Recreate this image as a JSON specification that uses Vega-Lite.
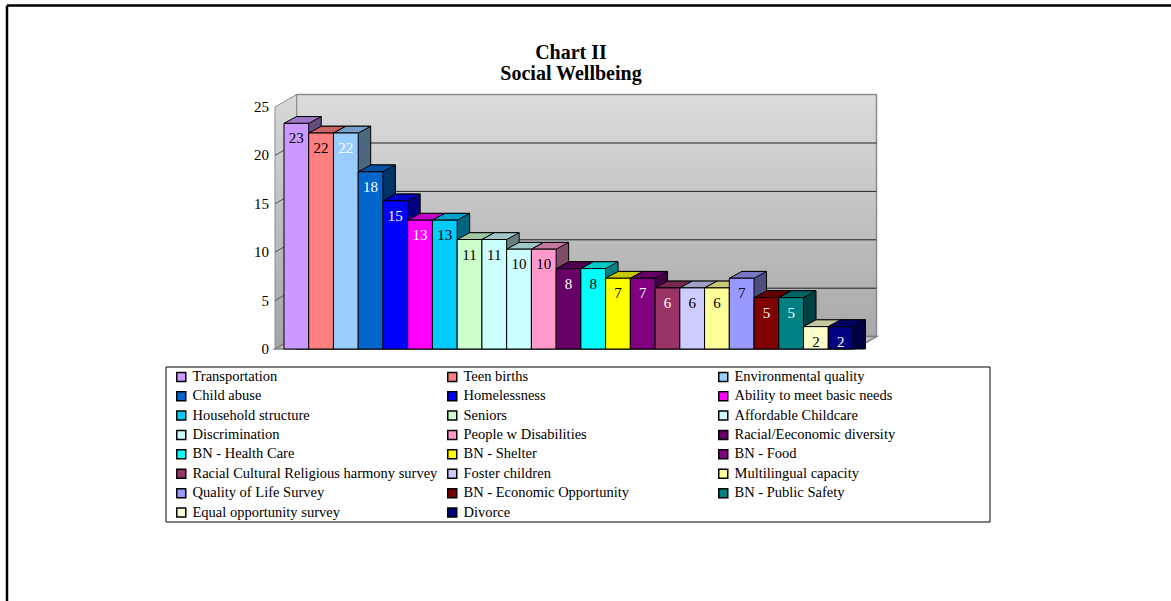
{
  "$schema": "https://vega.github.io/schema/vega-lite/v6.json",
  "width": 580,
  "height": 242,
  "autosize": {"type": "none"},
  "padding": {"left": 275, "top": 107, "right": 316, "bottom": 252},
  "background": "white",
  "title": {
    "text": ["Chart II", "Social Wellbeing"],
    "anchor": "middle",
    "frame": "group",
    "font": "Liberation Serif",
    "fontSize": 20,
    "fontWeight": "bold",
    "color": "#000000",
    "lineHeight": 21,
    "dx": 6,
    "dy": 80,
    "offset": 0
  },
  "config": {
    "view": {"stroke": null}
  },
  "datasets": {
    "wellbeing": [
      {"item": "Transportation", "value": 23},
      {"item": "Teen births", "value": 22},
      {"item": "Environmental quality", "value": 22},
      {"item": "Child abuse", "value": 18},
      {"item": "Homelessness", "value": 15},
      {"item": "Ability to meet basic needs", "value": 13},
      {"item": "Household structure", "value": 13},
      {"item": "Seniors", "value": 11},
      {"item": "Affordable Childcare", "value": 11},
      {"item": "Discrimination", "value": 10},
      {"item": "People w Disabilities", "value": 10},
      {"item": "Racial/Eeconomic diversity", "value": 8},
      {"item": "BN - Health Care", "value": 8},
      {"item": "BN - Shelter", "value": 7},
      {"item": "BN - Food", "value": 7},
      {"item": "Racial Cultural Religious harmony survey", "value": 6},
      {"item": "Foster children", "value": 6},
      {"item": "Multilingual capacity", "value": 6},
      {"item": "Quality of Life Survey", "value": 7},
      {"item": "BN - Economic Opportunity", "value": 5},
      {"item": "BN - Public Safety", "value": 5},
      {"item": "Equal opportunity survey", "value": 2},
      {"item": "Divorce", "value": 2}
    ],
    "gridlines": [{"v": 5}, {"v": 10}, {"v": 15}, {"v": 20}],
    "ticks": [{"v": 0}, {"v": 5}, {"v": 10}, {"v": 15}, {"v": 20}, {"v": 25}]
  },
  "layer": [
    {
      "data": {"values": [{}]},
      "mark": {"type": "rule", "stroke": "#000000", "strokeWidth": 2.5},
      "encoding": {"x": {"value": -268}, "x2": {"value": 900}, "y": {"value": -101.5}}
    },
    {
      "data": {"values": [{}]},
      "mark": {"type": "rule", "stroke": "#000000", "strokeWidth": 2.5},
      "encoding": {"x": {"value": -268}, "y": {"value": -101.5}, "y2": {"value": 500}}
    },
    {
      "data": {"values": [{}]},
      "mark": {"type": "rect", "fill": "#ffffff", "stroke": "#000000", "strokeWidth": 1},
      "encoding": {"x": {"value": -109}, "x2": {"value": 715}, "y": {"value": 260}, "y2": {"value": 415}}
    },
    {
      "data": {"values": [{}]},
      "mark": {
        "type": "rect",
        "opacity": 1,
        "fill": {"gradient": "linear", "x1": 0, "y1": 0, "x2": 0, "y2": 1,
          "stops": [{"offset": 0, "color": "#dcdcdc"}, {"offset": 1, "color": "#a8a8a8"}]},
        "stroke": "#8c8c8c",
        "strokeWidth": 1.5,
        "yOffset": -12.4,
        "y2Offset": -12.4
      },
      "encoding": {
        "x": {"value": 21.5},
        "x2": {"value": 601.5},
        "y": {"datum": 0, "type": "quantitative", "scale": {"domain": [0, 25], "nice": false}, "axis": null},
        "y2": {"datum": 25}
      }
    },
    {
      "data": {"values": [{}]},
      "mark": {
        "type": "point",
        "shape": "M 0 0 L 0 -242 L 21.5 -254.4 L 21.5 -12.4 Z",
        "size": 4,
        "filled": true,
        "opacity": 1,
        "fill": {"gradient": "linear", "x1": 0, "y1": 0, "x2": 0, "y2": 1,
          "stops": [{"offset": 0, "color": "#d8d8d8"}, {"offset": 1, "color": "#a4a4a4"}]},
        "stroke": "#8c8c8c",
        "strokeWidth": 1
      },
      "encoding": {
        "x": {"value": 0},
        "y": {"datum": 0, "type": "quantitative", "scale": {"domain": [0, 25], "nice": false}, "axis": null}
      }
    },
    {
      "data": {"values": [{}]},
      "mark": {
        "type": "point",
        "shape": "M 0 0 L 580 0 L 601.5 -12.4 L 21.5 -12.4 Z",
        "size": 4,
        "filled": true,
        "opacity": 1,
        "fill": "#c4c4c4",
        "stroke": "#7f7f7f",
        "strokeWidth": 1.5
      },
      "encoding": {
        "x": {"value": 0},
        "y": {"datum": 0, "type": "quantitative", "scale": {"domain": [0, 25], "nice": false}, "axis": null}
      }
    },
    {
      "data": {"name": "gridlines"},
      "mark": {"type": "rule", "stroke": "#222222", "strokeWidth": 1, "yOffset": -12.4},
      "encoding": {
        "x": {"value": 21.5},
        "x2": {"value": 601.5},
        "y": {"field": "v", "type": "quantitative", "scale": {"domain": [0, 25], "nice": false}, "axis": null}
      }
    },
    {
      "data": {"name": "gridlines"},
      "mark": {"type": "rule", "stroke": "#555555", "strokeWidth": 1, "y2Offset": -12.4},
      "encoding": {
        "x": {"value": 0},
        "x2": {"value": 21.5},
        "y": {"field": "v", "type": "quantitative", "scale": {"domain": [0, 25], "nice": false}, "axis": null},
        "y2": {"field": "v"}
      }
    },
    {
      "data": {"name": "ticks"},
      "mark": {
        "type": "text",
        "font": "Liberation Serif",
        "fontSize": 15,
        "fill": "#000000",
        "align": "right",
        "baseline": "middle",
        "dx": -6
      },
      "encoding": {
        "x": {"value": 0},
        "y": {"field": "v", "type": "quantitative", "scale": {"domain": [0, 25], "nice": false}, "axis": null},
        "text": {"field": "v", "type": "quantitative"}
      }
    },
    {
      "data": {"name": "wellbeing"},
      "mark": {
        "type": "bar",
        "opacity": 1,
        "stroke": "#000000",
        "strokeWidth": 1,
        "xOffset": 12.5,
        "x2Offset": 12.5,
        "yOffset": -9.8,
        "y2Offset": -9.8
      },
      "encoding": {
        "x": {"field": "item", "type": "nominal", "sort": null, "axis": null,
          "scale": {"range": [9, 578], "paddingInner": 0, "paddingOuter": 0}},
        "y": {"field": "value", "type": "quantitative", "stack": null, "axis": null,
          "scale": {"domain": [0, 25], "nice": false}},
        "fill": {"field": "item", "type": "nominal", "sort": null, "legend": null,
          "scale": {"range": ["#664D80","#804040","#4D6680","#003366","#000080","#800080","#006680","#668066","#668080","#668080","#804D66","#330033","#008080","#808000","#400040","#4D1A33","#666680","#80804D","#4D4D80","#400000","#004040","#808066","#000040"]}}
      }
    },
    {
      "data": {"name": "wellbeing"},
      "mark": {
        "type": "point",
        "shape": "M -12.37 0 L 12.37 0 L 24.87 -6.8 L 0.13 -6.8 Z",
        "size": 4,
        "filled": true,
        "opacity": 1,
        "stroke": "#000000",
        "strokeWidth": 1,
        "yOffset": -3
      },
      "encoding": {
        "x": {"field": "item", "type": "nominal", "sort": null, "axis": null,
          "scale": {"range": [9, 578], "paddingInner": 0, "paddingOuter": 0}},
        "y": {"field": "value", "type": "quantitative", "axis": null,
          "scale": {"domain": [0, 25], "nice": false}},
        "fill": {"field": "item", "type": "nominal", "sort": null, "legend": null,
          "scale": {"range": ["#9F77C7","#C76464","#779FC7","#00509F","#0000C7","#C700C7","#009FC7","#9FC79F","#9FC7C7","#9FC7C7","#C7779F","#500050","#00C7C7","#C7C700","#640064","#772850","#9F9FC7","#C7C777","#7777C7","#640000","#006464","#C7C79F","#000064"]}}
      }
    },
    {
      "data": {"name": "wellbeing"},
      "mark": {
        "type": "bar",
        "opacity": 1,
        "stroke": "#000000",
        "strokeWidth": 1,
        "yOffset": -3,
        "y2Offset": -3
      },
      "encoding": {
        "x": {"field": "item", "type": "nominal", "sort": null, "axis": null,
          "scale": {"range": [9, 578], "paddingInner": 0, "paddingOuter": 0}},
        "y": {"field": "value", "type": "quantitative", "stack": null,
          "scale": {"domain": [0, 25], "nice": false},
          "axis": {"values": [0, 5, 10, 15, 20, 25], "title": null, "grid": false, "labels": false,
            "tickSize": 4, "tickColor": "#000000", "tickWidth": 1,
            "domainColor": "#808080", "domainWidth": 1.5,
            "zindex": 1}},
        "fill": {"field": "item", "type": "nominal", "sort": null,
          "scale": {"range": ["#CC99FF","#FF8080","#99CCFF","#0066CC","#0000FF","#FF00FF","#00CCFF","#CCFFCC","#CCFFFF","#CCFFFF","#FF99CC","#660066","#00FFFF","#FFFF00","#800080","#993366","#CCCCFF","#FFFF99","#9999FF","#800000","#008080","#FFFFCC","#000080"]},
          "legend": {
            "orient": "none", "legendX": -109, "legendY": 260,
            "direction": "horizontal",
            "columns": 3, "gridAlign": "all", "title": null,
            "symbolType": "square", "symbolSize": 81, "symbolStrokeColor": "#000000", "symbolStrokeWidth": 1.5,
            "symbolOffset": 5.5,
            "labelFont": "Liberation Serif", "labelFontSize": 14.5, "labelColor": "#000000",
            "labelOffset": 4, "labelLimit": 400,
            "rowPadding": 3.4, "columnPadding": 2, "padding": 2.5
          }}
      }
    },
    {
      "data": {"name": "wellbeing"},
      "mark": {
        "type": "text",
        "font": "Liberation Serif",
        "fontSize": 15,
        "baseline": "middle",
        "align": "center",
        "dy": 12
      },
      "encoding": {
        "x": {"field": "item", "type": "nominal", "sort": null, "axis": null,
          "scale": {"range": [9, 578], "paddingInner": 0, "paddingOuter": 0}},
        "y": {"field": "value", "type": "quantitative", "axis": null,
          "scale": {"domain": [0, 25], "nice": false}},
        "text": {"field": "value", "type": "quantitative"},
        "fill": {"field": "item", "type": "nominal", "sort": null, "legend": null,
          "scale": {"range": ["#000000","#000000","#ffffff","#ffffff","#ffffff","#ffffff","#000000","#000000","#000000","#000000","#000000","#ffffff","#000000","#000000","#ffffff","#ffffff","#000000","#000000","#000000","#ffffff","#ffffff","#000000","#ffffff"]}}
      }
    }
  ],
  "resolve": {"scale": {"fill": "independent"}, "legend": {"fill": "independent"}}
}
